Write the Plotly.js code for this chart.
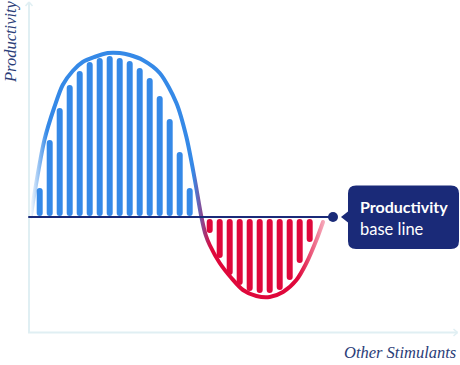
<!DOCTYPE html>
<html>
<head>
<meta charset="utf-8">
<script src="https://cdn.plot.ly/plotly-3.0.1.min.js"></script>
<style>
html,body{margin:0;padding:0;background:#fff;}
#chart{width:460px;height:365px;}
.js-line{stroke-linecap:round !important;}
</style>
</head>
<body>
<div id="chart"></div>
<script>
// ---- data ----
const positiveX = [0,1,2,3,4,5,6,7,8,9,10,11,12,13,14,15];
const positiveY = [29,77,109,132,146,155,159,161,159,156,149,139,121,98,65,29];
const negativeX = [17,18,19,20,21,22,23,24,25,26,27];
const negativeY = [-16,-41,-58,-68,-74,-76,-76,-73,-63,-46,-25];
const curveX = [-0.9,-0.55,0.47,1.47,2.3,3.3,4.3,5.47,6.8,8,9,10.3,12,13.67,14.67,15.5,16.17,16.6,17,18,19.17,20.33,21.67,23,24.33,25.67,26.67,27.67,28.33];
const curveY = [0,22,77,110,132,146,155,160,164,164,162,157,144,114,80,38,0,-18,-28,-46,-61,-73,-79,-80,-75,-63,-46,-23,-5];
const baselineX = [-1.07, 29.33];
const baselineY = [0, 0];
const xTitle = "Other Stimulants";
const yTitle = "Productivity";
const labelLines = ["Productivity", "base line"];

// ---- styles ----
const BLUE = "#3589e7", RED = "#df083b", NAVY = "#1a2a78", AXIS = "#e0eff3";
const W = 460, H = 365;
const px = x => x / W, py = y => 1 - y / H;

function stems(xs, ys, pos) {
  const X = [], Y = [];
  xs.forEach((x, i) => {
    const v = ys[i];
    if (pos) { X.push(x, x, null); Y.push(4, v - 3, null); }
    else { X.push(x, x, null); Y.push(-5, v + 3, null); }
  });
  return {X, Y};
}
const p = stems(positiveX, positiveY, true);
const n = stems(negativeX, negativeY, false);

const traces = [
  {x: p.X, y: p.Y, mode: "lines", line: {color: BLUE, width: 6}, connectgaps: false, hoverinfo: "skip"},
  {x: n.X, y: n.Y, mode: "lines", line: {color: RED, width: 6}, connectgaps: false, hoverinfo: "skip"},
  {x: curveX, y: curveY, mode: "lines", line: {color: BLUE, width: 4, shape: "spline", smoothing: 0.8}, hoverinfo: "skip"},
  {x: baselineX, y: baselineY, mode: "lines", line: {color: NAVY, width: 2}, hoverinfo: "skip"},
  {x: [baselineX[1]], y: [baselineY[1]], mode: "markers", marker: {size: 10, color: NAVY, opacity: 1, line: {width: 0}}, hoverinfo: "skip"}
];

// box with pointer (pixel space -> paper)
function boxPath() {
  const L = 348, R = 459, T = 185.5, B = 249, r = 8, tipX = 341, tipY = 217, hw = 5.5;
  const pts = [
    ["M", L + r, T], ["L", R - r, T], ["Q", R, T, R, T + r], ["L", R, B - r], ["Q", R, B, R - r, B],
    ["L", L + r, B], ["Q", L, B, L, B - r], ["L", L, tipY + hw], ["L", tipX, tipY], ["L", L, tipY - hw],
    ["L", L, T + r], ["Q", L, T, L + r, T]
  ];
  return pts.map(a => {
    const c = a[0], v = a.slice(1);
    const out = [];
    for (let i = 0; i < v.length; i += 2) out.push(px(v[i]).toFixed(5) + "," + py(v[i + 1]).toFixed(5));
    return c + out.join(" ");
  }).join(" ") + " Z";
}
function seg(x0, y0, x1, y1, color, w) {
  return {type: "line", xref: "paper", yref: "paper", x0: px(x0), y0: py(y0), x1: px(x1), y1: py(y1),
          line: {color: color, width: w}, layer: "below"};
}

const shapes = [
  seg(29, 333, 29, 2, AXIS, 2),
  seg(25.5, 6, 29, 2, AXIS, 1.5), seg(32.5, 6, 29, 2, AXIS, 1.5),
  seg(28, 332.5, 457.5, 332.5, AXIS, 2),
  seg(453.5, 329, 457.5, 332.5, AXIS, 1.5), seg(453.5, 336, 457.5, 332.5, AXIS, 1.5),
  {type: "path", xref: "paper", yref: "paper", path: boxPath(), fillcolor: NAVY, line: {width: 0}, layer: "above"}
];

const annotations = [
  {xref: "paper", yref: "paper", x: px(11), y: py(42), text: yTitle, showarrow: false, textangle: -90,
   xanchor: "center", yanchor: "middle",
   font: {family: "Liberation Serif, serif", size: 16.5, color: "#2b3d78", style: "italic"}},
  {xref: "paper", yref: "paper", x: px(458), y: py(352), text: xTitle, showarrow: false,
   xanchor: "right", yanchor: "middle",
   font: {family: "Liberation Serif, serif", size: 16.5, color: "#2b3d78", style: "italic"}},
  {xref: "paper", yref: "paper", x: px(358), y: py(206.5), text: "<b>" + labelLines[0] + "</b>", showarrow: false,
   xanchor: "left", yanchor: "middle", font: {family: "Lato, sans-serif", size: 16, color: "#ffffff"}},
  {xref: "paper", yref: "paper", x: px(358), y: py(229), text: labelLines[1], showarrow: false,
   xanchor: "left", yanchor: "middle", font: {family: "Lato, sans-serif", size: 16.5, color: "#ffffff"}}
];

const layout = {
  width: W, height: H, margin: {l: 0, r: 0, t: 0, b: 0},
  paper_bgcolor: "#fff", plot_bgcolor: "#fff", showlegend: false,
  xaxis: {range: [(0 - 39.7) / 10, (W - 39.7) / 10], visible: false, fixedrange: true},
  yaxis: {range: [217 - H, 217], visible: false, fixedrange: true},
  shapes: shapes, annotations: annotations
};

Plotly.newPlot("chart", traces, layout, {staticPlot: true}).then(gd => {
  const svg = gd.querySelector("svg.main-svg");
  let defs = svg.querySelector("defs");
  const NS = "http://www.w3.org/2000/svg";
  if (!defs) { defs = document.createElementNS(NS, "defs"); svg.insertBefore(defs, svg.firstChild); }
  const g = document.createElementNS(NS, "linearGradient");
  g.setAttribute("id", "curveGrad");
  g.setAttribute("gradientUnits", "userSpaceOnUse");
  g.setAttribute("x1", "0"); g.setAttribute("x2", String(W)); g.setAttribute("y1", "0"); g.setAttribute("y2", "0");
  const stops = [[30, BLUE, 0], [47, BLUE, 1], [193, BLUE, 1], [211, RED, 1], [298, RED, 1], [324, "#f6a9ba", 1]];
  stops.forEach(s => {
    const st = document.createElementNS(NS, "stop");
    st.setAttribute("offset", (s[0] / W).toFixed(4));
    st.setAttribute("stop-color", s[1]);
    st.setAttribute("stop-opacity", s[2]);
    g.appendChild(st);
  });
  defs.appendChild(g);
  const tr = gd.querySelectorAll(".scatterlayer .trace")[2];
  if (tr) tr.querySelectorAll("path.js-line").forEach(pth => { pth.style.stroke = "url(#curveGrad)"; });
});
</script>
</body>
</html>
